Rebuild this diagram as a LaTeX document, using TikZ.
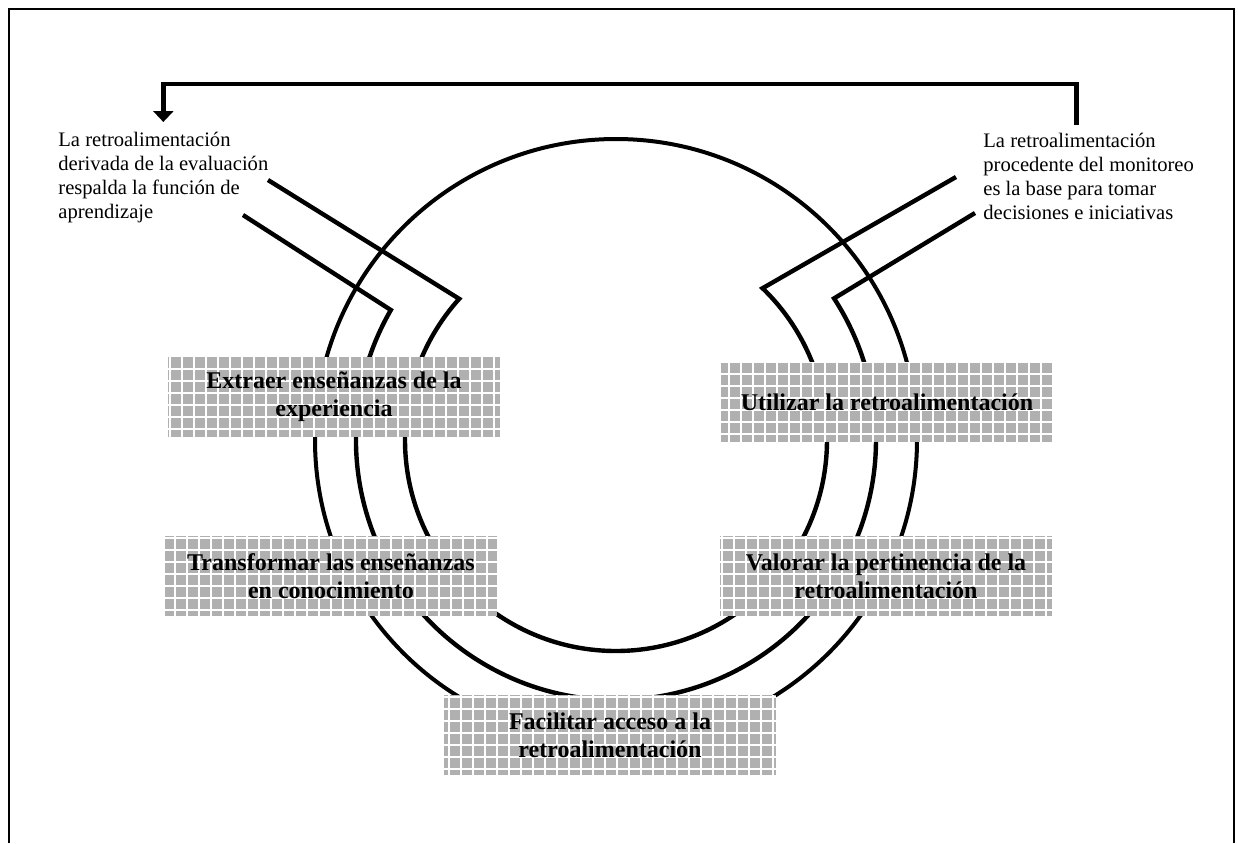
\documentclass[tikz,border=0pt]{standalone}
\usepackage{fontspec}
\setmainfont{Liberation Serif}
\usetikzlibrary{arrows.meta, positioning}
\tikzset{
    >=Latex,
    loop_note/.style={
        inner sep=0pt,
        anchor=north west,
        align=left,
        font=\fontsize{10.3}{12}\selectfont
    },
    loop_step/.style={
        rectangle,
        fill=gray!62,
        minimum width=166pt,
        minimum height=40pt,
        inner sep=0pt,
        align=center,
        font=\fontsize{12}{14}\selectfont\bfseries,
        path picture={
            \draw[white, line width=1.1pt]
                (path picture bounding box.south west) grid[step=6pt]
                (path picture bounding box.north east);
        }
    },
    loop_ring/.style={
        line width=2pt
    },
    loop_band/.style={
        line width=2.2pt,
        line join=miter
    },
    loop_arrow/.style={
        -{Triangle[width=10pt, length=5.5pt]},
        line width=2.4pt
    },
    loop_frame/.style={
        line width=0.8pt
    }
}

\begin{document}
\begin{tikzpicture}[x=0.5pt, y=-0.5pt]
\useasboundingbox (0,0) rectangle (1238,843);

% --- Frame ---
\draw[loop_frame] (9,843) -- (9,9) -- (1234,9) -- (1234,843);

% --- Notes ---
\node[loop_note] (EvalNote) at (58,132) {La retroalimentación\\derivada de la evaluación\\respalda la función de\\aprendizaje};
\node[loop_note] (MonNote) at (983,133) {La retroalimentación\\procedente del monitoreo\\es la base para tomar\\decisiones e iniciativas};

% --- Feedback on top ---
\coordinate (TopBar) at (0,84);
\draw[loop_arrow, shorten <=4pt, shorten >=5pt] ([xshift=-6pt]MonNote.north) -- ([xshift=-6pt]MonNote.north |- TopBar) -| (EvalNote.north);

% --- Ring and bands ---
\coordinate (Hub) at (616,440);
\coordinate (EvalIn) at (268,180);
\coordinate (EvalOut) at (243,215);
\coordinate (MonIn) at (956,177);
\coordinate (MonOut) at (975,213);

\draw[loop_ring] (Hub) circle[radius=301];
\draw[loop_band] (EvalIn) -- ([shift={(222:211)}]Hub) arc[start angle=222, end angle=-46, radius=211] -- (MonIn);
\draw[loop_band] (EvalOut) -- ([shift={(210:260)}]Hub) arc[start angle=210, end angle=-33, radius=260] -- (MonOut);

% --- Steps ---
\node[loop_step] (Extract) at (334,397) {Extraer enseñanzas de la\\experiencia};
\node[loop_step] (Transform) at (331,576) {Transformar las enseñanzas\\en conocimiento};
\node[loop_step] (Use) at (887,402) {Utilizar la retroalimentación};
\node[loop_step] (Assess) at (886,576) {Valorar la pertinencia de la\\retroalimentación};
\node[loop_step] (Access) at (610,735) {Facilitar acceso a la\\retroalimentación};

\end{tikzpicture}
\end{document}
